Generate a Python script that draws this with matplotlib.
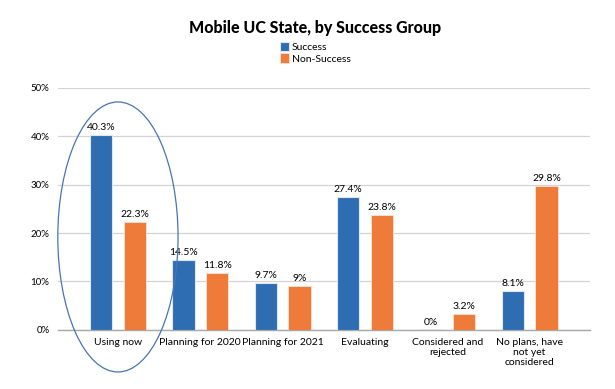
import numpy as np
import matplotlib.pyplot as plt
from matplotlib.patches import Ellipse

categories = ["Using now", "Planning for 2020", "Planning for 2021", "Evaluating",
              "Considered and\nrejected", "No plans, have\nnot yet\nconsidered"]
success = [40.3, 14.5, 9.7, 27.4, 0.0, 8.1]
non_success = [22.3, 11.8, 9.0, 23.8, 3.2, 29.8]
success_labels = ["40.3%", "14.5%", "9.7%", "27.4%", "0%", "8.1%"]
non_success_labels = ["22.3%", "11.8%", "9%", "23.8%", "3.2%", "29.8%"]
yticks = [0, 10, 20, 30, 40, 50]

BLUE = "#2f6db3"
ORANGE = "#ee7b39"

plt.rcParams["font.family"] = ["Lato", "DejaVu Sans"]

fig = plt.figure(figsize=(6.15, 3.89), dpi=100)
ax = fig.add_axes([0.094, 0.152, 0.865, 0.622])

x = np.arange(len(categories))
w = 0.27
off = 0.205
# zero-height bars still show as a thin blue line in the original
s_edges = [BLUE if v == 0 else "#dde6f2" for v in success]
b1 = ax.bar(x - off, success, w, color=BLUE, edgecolor=s_edges, linewidth=0.8,
            label="Success", zorder=3)
b2 = ax.bar(x + off, non_success, w, color=ORANGE, edgecolor="#fbe3d5", linewidth=0.6,
            label="Non-Success", zorder=3)

for xi, v, s in zip(x - off, success, success_labels):
    ax.text(xi, v + 0.6, s, ha="center", va="bottom", fontsize=7.5, zorder=4)
for xi, v, s in zip(x + off, non_success, non_success_labels):
    ax.text(xi, v + 0.6, s, ha="center", va="bottom", fontsize=7.5, zorder=4)

ax.set_xlim(-0.73, 5.73)
ax.set_ylim(0, 50)
ax.set_yticks(yticks)
ax.set_yticklabels([f"{t}%" for t in yticks], fontsize=7)
ax.set_xticks(x)
ax.set_xticklabels(categories, fontsize=7.5, linespacing=1.15)
ax.tick_params(axis="both", length=0, pad=6)
ax.grid(axis="y", color="#d4d4d4", linewidth=0.9, zorder=0)
for side in ["left", "right", "top"]:
    ax.spines[side].set_visible(False)
ax.spines["bottom"].set_color("#a8a8a8")
ax.spines["bottom"].set_linewidth(1.0)
ax.spines["bottom"].set_zorder(2)

# highlight ellipse around first group
ell = Ellipse((0, 19.2), width=1.46, height=55.8, fill=False,
              edgecolor="#4a73b5", linewidth=0.9, clip_on=False, zorder=5)
ax.add_patch(ell)

fig.text(0.512, 0.928, "Mobile UC State, by Success Group", ha="center", va="center",
         fontsize=11.5, fontweight="black")
fig.legend(handles=[b1, b2], loc="upper left", bbox_to_anchor=(0.447, 0.905),
           frameon=False, fontsize=7.5, handlelength=0.85, handleheight=1.0,
           handletextpad=0.3, labelspacing=0.1, borderpad=0)

fig.savefig("out.png", dpi=100)
